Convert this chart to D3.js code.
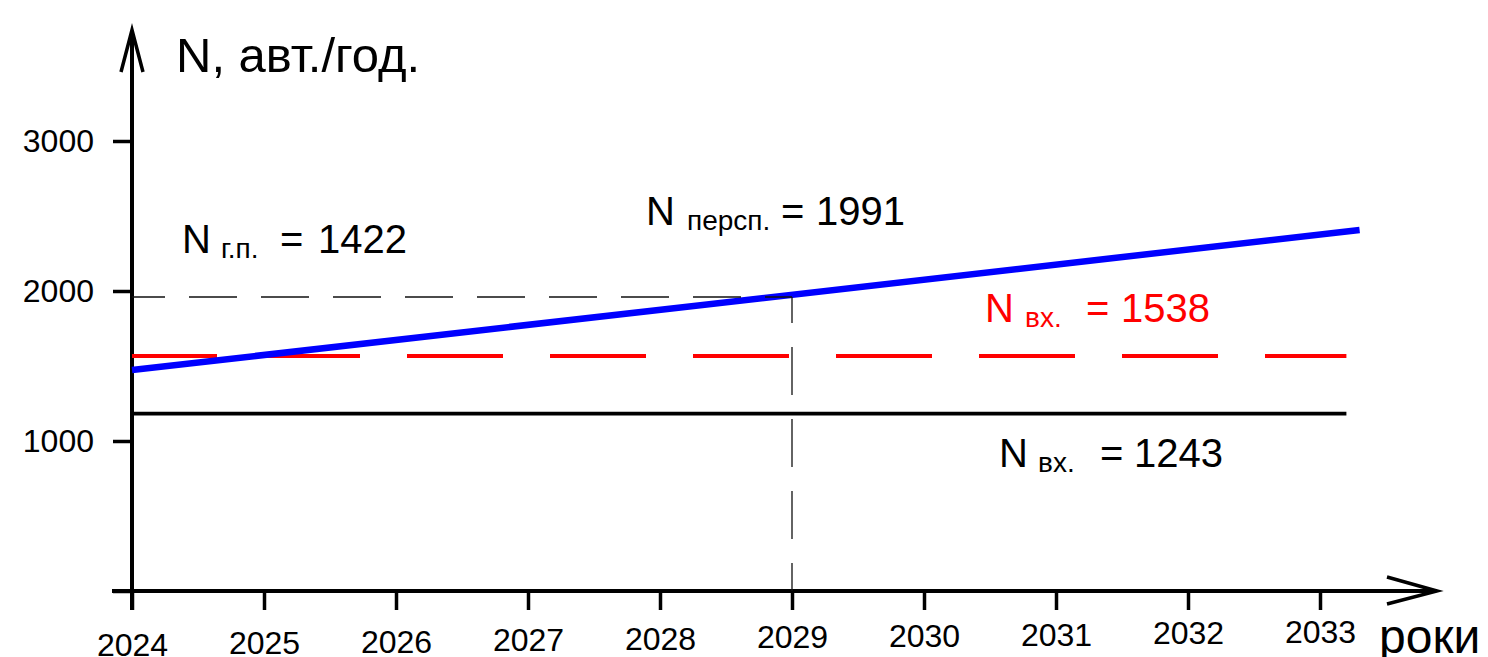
<!DOCTYPE html>
<html>
<head>
<meta charset="utf-8">
<script src="https://cdn.jsdelivr.net/npm/d3@7"></script>
<style>
  body { margin: 0; background: #fff; }
  svg { display: block; font-family: "Liberation Sans", Arial, sans-serif; }
</style>
</head>
<body>
<svg id="grafica" width="1488" height="657"></svg>
<script>
// dane z rysunku
const roki = [2024, 2025, 2026, 2027, 2028, 2029, 2030, 2031, 2032, 2033];
const tickiN = [0, 1000, 2000, 3000];

// N персп. - niebieska linia
const rokiPersp = [2024, 2033.3];
const wartPersp = [1473, 2407];

// N вх. - czerwona przerywana i czarna ciągła
const rokiWx = [2024, 2033.2];
const wartWxCzerw = [1567, 1567];
const wartWxCzarn = [1183, 1183];

// linie pomocnicze
const rokPom = 2029;
const wartPom = 1960;

const etykiety = [
  { n: "N", sub: "г.п.", liczba: "1422", kolor: "#000" },
  { n: "N", sub: "персп.", liczba: "1991", kolor: "#000" },
  { n: "N", sub: "вх.", liczba: "1538", kolor: "#ff0000" },
  { n: "N", sub: "вх.", liczba: "1243", kolor: "#000" }
];
// pozycje etykiet (px): x N, x sub, x "=", x liczby, linia bazowa
const pozEtyk = [
  [185, 221, 280, 318, 253],
  [649, 687, 781, 816, 225],
  [988, 1025, 1086, 1121, 322],
  [1002, 1038, 1100, 1134, 467]
];

const svg = d3.select("#grafica");

const x = d3.scaleLinear().domain([2024, 2033]).range([132, 1320]);
const y = d3.scaleLinear().domain([0, 3000]).range([591, 141]);

const linia = d3.line()
  .x(d => x(d[0]))
  .y(d => y(d[1]));

// osie
const osY = svg.append("g")
  .attr("transform", `translate(${x(2024)},0)`)
  .call(d3.axisLeft(y).tickValues(tickiN).tickSize(19).tickPadding(19)
    .tickFormat(d => d === 0 ? "" : d));
osY.select(".domain").remove();
osY.selectAll(".tick line").attr("stroke", "#000").attr("stroke-width", 3.5);
osY.selectAll(".tick text").attr("font-size", 32).attr("fill", "#000")
  .attr("font-family", "Liberation Sans, Arial, sans-serif");

const osX = svg.append("g")
  .attr("transform", `translate(0,${y(0)})`)
  .call(d3.axisBottom(x).tickValues(roki).tickSize(19).tickFormat(d => d));
osX.select(".domain").remove();
osX.selectAll(".tick line").attr("stroke", "#000").attr("stroke-width", 3.5);
osX.selectAll(".tick text")
  .attr("font-size", 32).attr("fill", "#000")
  .attr("font-family", "Liberation Sans, Arial, sans-serif")
  .attr("y", d => 42 - (x(d) - x(2024)) * 0.011);

// linie osi ze strzałkami
svg.append("line")
  .attr("x1", x(2024)).attr("y1", y(0) + 19)
  .attr("x2", x(2024)).attr("y2", 31)
  .attr("stroke", "#000").attr("stroke-width", 4);
svg.append("path")
  .attr("d", `M${x(2024) - 11},72 L${x(2024)},30 L${x(2024) + 11},72`)
  .attr("fill", "none").attr("stroke", "#000").attr("stroke-width", 3.5);

svg.append("line")
  .attr("x1", 112).attr("y1", y(0))
  .attr("x2", 1436).attr("y2", y(0))
  .attr("stroke", "#000").attr("stroke-width", 4);
svg.append("path")
  .attr("d", `M1387,${y(0) - 14} L1437,${y(0)} L1387,${y(0) + 13}`)
  .attr("fill", "none").attr("stroke", "#000").attr("stroke-width", 3.5);

// dane
svg.append("path")
  .datum(rokiWx.map((r, i) => [r, wartWxCzerw[i]]))
  .attr("d", linia)
  .attr("fill", "none").attr("stroke", "#ff0000").attr("stroke-width", 4)
  .attr("stroke-dasharray", "96,47").attr("stroke-dashoffset", 11);

svg.append("path")
  .datum(rokiWx.map((r, i) => [r, wartWxCzarn[i]]))
  .attr("d", linia)
  .attr("fill", "none").attr("stroke", "#000").attr("stroke-width", 3.8);

svg.append("path")
  .datum(rokiPersp.map((r, i) => [r, wartPersp[i]]))
  .attr("d", linia)
  .attr("fill", "none").attr("stroke", "#0000ff").attr("stroke-width", 6.5);

// pomocnicze przerywane
svg.append("path")
  .datum([[2024, wartPom], [rokPom, wartPom]])
  .attr("d", linia)
  .attr("fill", "none").attr("stroke", "#111").attr("stroke-width", 1.3)
  .attr("stroke-dasharray", "48,24").attr("stroke-dashoffset", 15);
svg.append("path")
  .datum([[rokPom, wartPom], [rokPom, 0]])
  .attr("d", linia)
  .attr("fill", "none").attr("stroke", "#111").attr("stroke-width", 1.3)
  .attr("stroke-dasharray", "48,24").attr("stroke-dashoffset", 22);

// tytuły osi
svg.append("text")
  .attr("x", 176).attr("y", 72)
  .attr("font-size", 49).attr("fill", "#000")
  .text("N, авт./год.");
svg.append("text")
  .attr("x", 1379).attr("y", 653)
  .attr("font-size", 48).attr("fill", "#000")
  .text("роки");

// etykiety wartości
etykiety.forEach((e, i) => {
  const p = pozEtyk[i];
  const t = svg.append("text").attr("fill", e.kolor).attr("font-size", 40);
  t.append("tspan").attr("x", p[0] - 3).attr("y", p[4]).text(e.n);
  t.append("tspan").attr("x", p[1]).attr("y", p[4] + 5).attr("font-size", 28).text(e.sub);
  t.append("tspan").attr("x", p[2]).attr("y", p[4]).text("=");
  t.append("tspan").attr("x", p[3]).attr("y", p[4]).text(e.liczba);
});
</script>
</body>
</html>
